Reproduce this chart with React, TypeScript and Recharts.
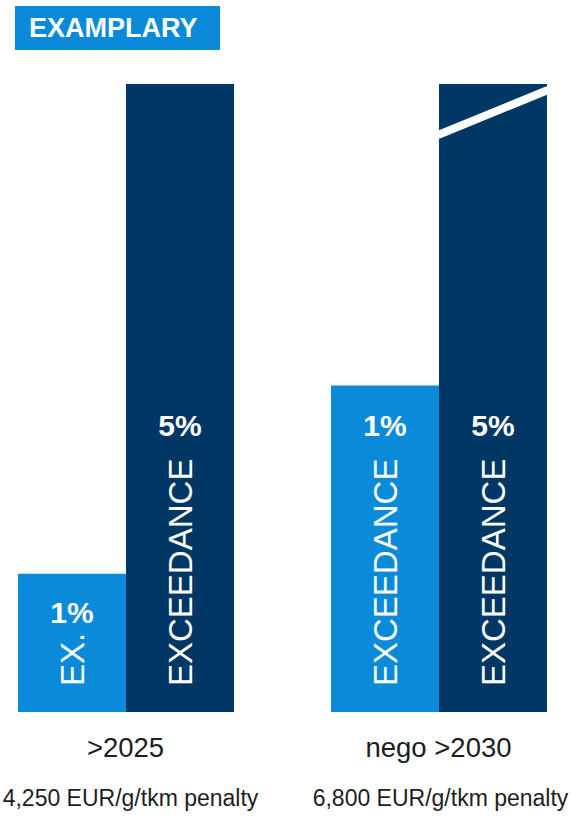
import React from 'react';
import { BarChart, Bar, XAxis, YAxis, LabelList } from 'recharts';

const categories = ['>2025', 'nego >2030'];
const penalties = ['4,250 EUR/g/tkm penalty', '6,800 EUR/g/tkm penalty'];
const oneValues = [22, 52];
const fiveValues = [100, 100];
const oneLabels = ['1%', '1%'];
const fiveLabels = ['5%', '5%'];
const oneTexts = ['EX.', 'EXCEEDANCE'];
const fiveTexts = ['EXCEEDANCE', 'EXCEEDANCE'];
const fiveTruncated = [false, true];

const LIGHT = '#0A8AD8';
const DARK = '#003764';
const FONT = '"Liberation Sans", Arial, sans-serif';

const data = categories.map((c, i) => ({
  category: c,
  one: oneValues[i],
  five: fiveValues[i],
  oneLabel: oneLabels[i],
  fiveLabel: fiveLabels[i],
  oneText: oneTexts[i],
  fiveText: fiveTexts[i],
  truncated: fiveTruncated[i],
}));

const PctLabel = (props: any) => {
  const x = Number(props.x), y = Number(props.y), w = Number(props.width), h = Number(props.height);
  const bottom = y + h;
  const cy = Math.max(y, bottom - 325) + 38;
  return (
    <text x={x + w / 2} y={cy + 11} textAnchor="middle" fill="#fff" fontSize={30} fontWeight="bold" fontFamily={FONT}>
      {props.value}
    </text>
  );
};

const VertLabel = (props: any) => {
  const x = Number(props.x), y = Number(props.y), w = Number(props.width), h = Number(props.height);
  const cx = x + w / 2;
  const sy = y + h - 26;
  return (
    <text x={cx} y={sy} dy="0.36em" transform={`rotate(-90 ${cx} ${sy})`} textAnchor="start" fill="#fff" fontSize={33} fontFamily={FONT}>
      {props.value}
    </text>
  );
};

const DarkShape = (props: any) => {
  const { x, y, width, height, payload } = props;
  return (
    <g>
      <rect x={x} y={y} width={width} height={height} fill={DARK} />
      {payload && payload.truncated ? (
        <line x1={x - 1} y1={y + 51} x2={x + width + 1} y2={y + 6} stroke="#fff" strokeWidth={8} />
      ) : null}
    </g>
  );
};

const Tick = (props: any) => {
  const { x, y, payload, index } = props;
  return (
    <g>
      <text x={x} y={y + 45} textAnchor="middle" fill="#1e1e1e" fontSize={27.5} fontFamily={FONT}>
        {payload.value}
      </text>
      <text x={x + (index === 0 ? 5 : 2)} y={y + 94} textAnchor="middle" fill="#1e1e1e" fontSize={23} fontFamily={FONT}>
        {penalties[index]}
      </text>
    </g>
  );
};

export default function App() {
  return (
    <div style={{ position: 'absolute', left: 0, top: 0, width: 571, height: 816, overflow: 'hidden', background: '#fff' }}>
      <div style={{ position: 'absolute', left: -31, top: 0 }}>
        <BarChart width={626} height={816} data={data} margin={{ top: 84, right: 0, bottom: 0, left: 0 }} barGap={0} barCategoryGap={0}>
          <XAxis dataKey="category" tickLine={false} axisLine={false} tickSize={0} tickMargin={0} height={104} interval={0} tick={<Tick />} />
          <YAxis hide domain={[0, 100]} />
          <Bar dataKey="one" fill={LIGHT} barSize={108} isAnimationActive={false}>
            <LabelList dataKey="oneLabel" content={<PctLabel />} />
            <LabelList dataKey="oneText" content={<VertLabel />} />
          </Bar>
          <Bar dataKey="five" fill={DARK} barSize={108} isAnimationActive={false} shape={<DarkShape />}>
            <LabelList dataKey="fiveLabel" content={<PctLabel />} />
            <LabelList dataKey="fiveText" content={<VertLabel />} />
          </Bar>
        </BarChart>
      </div>
      <div
        style={{
          position: 'absolute',
          left: 15,
          top: 6,
          width: 205,
          height: 44,
          background: LIGHT,
          color: '#fff',
          fontFamily: FONT,
          fontWeight: 'bold',
          fontSize: 27,
          lineHeight: '44px',
          paddingLeft: 14,
          boxSizing: 'border-box',
        }}
      >
        EXAMPLARY
      </div>
    </div>
  );
}
